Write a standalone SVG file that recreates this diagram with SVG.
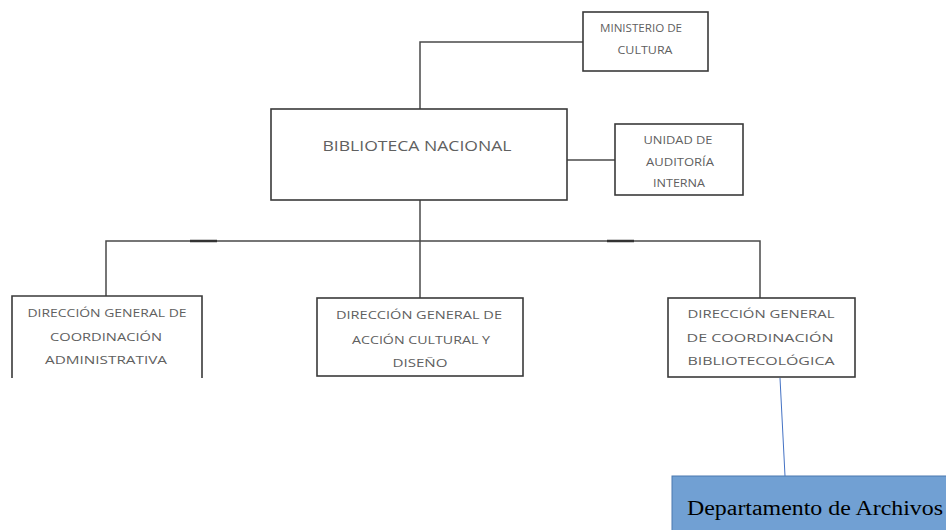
<svg xmlns="http://www.w3.org/2000/svg" width="946" height="530" viewBox="0 0 946 530">
<style>
.box{fill:#fff;stroke:#3a3a3a;stroke-width:1.6}
.t{font-family:"Open Sans","Liberation Sans",sans-serif;fill:#606060;font-size:10.5px;text-anchor:middle}
.big{font-size:15px}
.con{fill:none;stroke:#4a4a4a;stroke-width:1.5}
</style>
<rect width="946" height="530" fill="#fff"/>
<g id="connectors">
<path class="con" d="M420,109 V42 H583"/>
<path class="con" d="M567,160 H615"/>
<path class="con" d="M420,200 V298"/>
<path class="con" d="M106,296 V241 H760 V298"/>
<path d="M190,241 H217 M607,241 H634" stroke="#333" stroke-width="2.6"/>
<path d="M780,378 L785,476" stroke="#4472c4" stroke-width="1"/>
</g>
<g id="ministerio">
<rect class="box" x="583" y="12" width="125" height="59"/>
<text class="t" x="641" y="32" textLength="82" lengthAdjust="spacingAndGlyphs">MINISTERIO DE</text>
<text class="t" x="645" y="54" textLength="55" lengthAdjust="spacingAndGlyphs">CULTURA</text>
</g>
<g id="biblioteca">
<rect class="box" x="271" y="109" width="296" height="91"/>
<text class="t big" x="417" y="151" textLength="189" lengthAdjust="spacingAndGlyphs">BIBLIOTECA NACIONAL</text>
</g>
<g id="unidad">
<rect class="box" x="615" y="124" width="128" height="71"/>
<text class="t" x="678" y="144" textLength="69" lengthAdjust="spacingAndGlyphs">UNIDAD DE</text>
<text class="t" x="680" y="166" textLength="68" lengthAdjust="spacingAndGlyphs">AUDITORÍA</text>
<text class="t" x="679" y="187" textLength="52" lengthAdjust="spacingAndGlyphs">INTERNA</text>
</g>
<g id="dg-administrativa">
<path class="box" d="M12,378 V296 H202 V378"/>
<text class="t" x="107" y="317" textLength="159" lengthAdjust="spacingAndGlyphs">DIRECCIÓN GENERAL DE</text>
<text class="t" x="106" y="341" textLength="112" lengthAdjust="spacingAndGlyphs">COORDINACIÓN</text>
<text class="t" x="106" y="364" textLength="122" lengthAdjust="spacingAndGlyphs">ADMINISTRATIVA</text>
</g>
<g id="dg-accion-cultural">
<rect class="box" x="317" y="298" width="206" height="78"/>
<text class="t" x="419" y="319" textLength="166" lengthAdjust="spacingAndGlyphs">DIRECCIÓN GENERAL DE</text>
<text class="t" x="421" y="344" textLength="138" lengthAdjust="spacingAndGlyphs">ACCIÓN CULTURAL Y</text>
<text class="t" x="420" y="367" textLength="55" lengthAdjust="spacingAndGlyphs">DISEÑO</text>
</g>
<g id="dg-bibliotecologica">
<rect class="box" x="668" y="298" width="187" height="79"/>
<text class="t" x="761" y="318" textLength="147" lengthAdjust="spacingAndGlyphs">DIRECCIÓN GENERAL</text>
<text class="t" x="760" y="342" textLength="147" lengthAdjust="spacingAndGlyphs">DE COORDINACIÓN</text>
<text class="t" x="761" y="365" textLength="147" lengthAdjust="spacingAndGlyphs">BIBLIOTECOLÓGICA</text>
</g>
<g id="departamento-archivos">
<rect x="672" y="476" width="280" height="60" fill="#71a0d3" stroke="#4a78b0" stroke-width="1"/>
<text x="687" y="515" font-family="'Liberation Serif','Times New Roman',serif" font-size="20" fill="#000" textLength="256" lengthAdjust="spacingAndGlyphs">Departamento de Archivos</text>
</g>
</svg>
